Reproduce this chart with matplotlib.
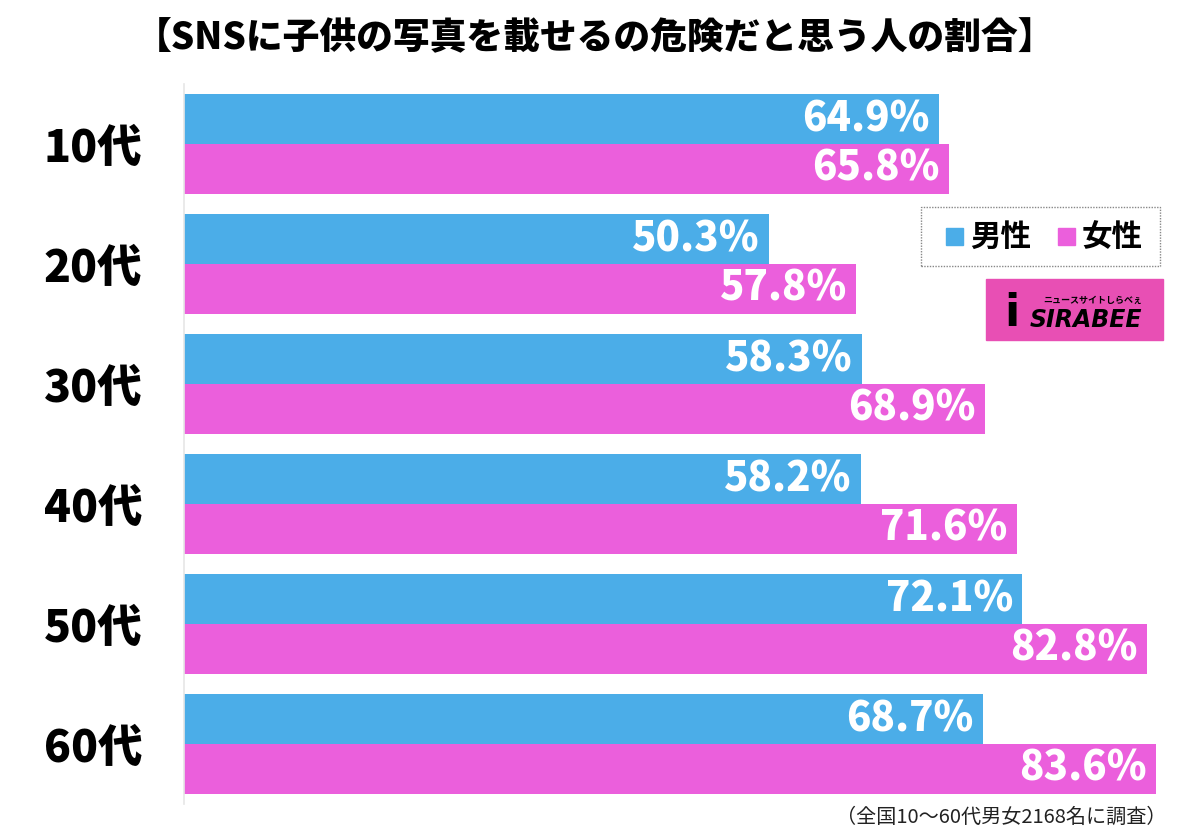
import matplotlib
matplotlib.use('Agg')
import matplotlib.pyplot as plt
from matplotlib.patches import Rectangle
import numpy as np

plt.rcParams['font.family'] = ['Noto Sans CJK JP', 'DejaVu Sans']

ages = ['10代', '20代', '30代', '40代', '50代', '60代']
male = [64.9, 50.3, 58.3, 58.2, 72.1, 68.7]
female = [65.8, 57.8, 68.9, 71.6, 82.8, 83.6]
series_names = ['男性', '女性']
title = '【SNSに子供の写真を載せるの危険だと思う人の割合】'
note = '（全国10〜60代男女2168名に調査）'

blue = '#4BADE8'
pink = '#EB5FDC'

fig = plt.figure(figsize=(12, 8.39), dpi=100)
ax = fig.add_axes([184/1200, 1 - 804/839, 1000/1200, 720/839])

y = np.arange(len(ages))
h = 0.415
ax.barh(y - h/2, male, height=h, color=blue)
ax.barh(y + h/2, female, height=h, color=pink)

for i in range(len(ages)):
    ax.text(male[i] - 0.8, y[i] - h/2, f'{male[i]:.1f}%', color='white',
            fontsize=29, fontweight='heavy', ha='right', va='center')
    ax.text(female[i] - 0.8, y[i] + h/2, f'{female[i]:.1f}%', color='white',
            fontsize=29, fontweight='heavy', ha='right', va='center')

ax.set_xlim(0, 86)
ax.set_ylim(len(ages) - 0.5, -0.5)
ax.set_xticks([])
ax.set_yticks(y)
ax.set_yticklabels(ages, fontsize=32, fontweight='heavy')
ax.tick_params(axis='y', length=0, pad=30)
for s in ['top', 'right', 'bottom']:
    ax.spines[s].set_visible(False)
ax.spines['left'].set_color('#e6e6e6')
ax.spines['left'].set_linewidth(1.2)

fig.text(595/1200, 1 - 38/839, title, fontsize=26.5, fontweight='heavy',
         ha='center', va='center')
fig.text(1167/1200, 1 - 817/839, note, fontsize=14.5, ha='right', va='center',
         color='#222222')

# legend box
lx0, ly0, lx1, ly1 = 921, 207, 1160, 266
fig.patches.append(Rectangle((lx0/1200, 1 - ly1/839), (lx1-lx0)/1200, (ly1-ly0)/839,
                             transform=fig.transFigure, fill=False, edgecolor='#888888',
                             linestyle=(0, (1, 1)), linewidth=1))
for sx, col, name in [(946, blue, series_names[0]), (1058, pink, series_names[1])]:
    fig.patches.append(Rectangle((sx/1200, 1 - 245/839), 17/1200, 17/839,
                                 transform=fig.transFigure, color=col))
    fig.text((sx + 24)/1200, 1 - 237/839, name, fontsize=22, fontweight='bold',
             ha='left', va='center')

# logo
fig.patches.append(Rectangle((986/1200, 1 - 340/839), 177/1200, 61/839,
                             transform=fig.transFigure, color='#E84FB4'))
fig.text(1012/1200, 1 - 313/839, 'i', fontsize=32, fontweight='bold',
         ha='center', va='center', color='black', family='DejaVu Sans')
fig.text(1030/1200, 1 - 320/839, 'SIRABEE', fontsize=17, fontweight='heavy',
         style='italic', ha='left', va='center', color='black', family='DejaVu Sans')
fig.text(1142/1200, 1 - 300/839, 'ニュースサイトしらべぇ', fontsize=6.5, fontweight='bold',
         ha='right', va='center', color='black')

fig.savefig('out.png', dpi=100, facecolor='white')
